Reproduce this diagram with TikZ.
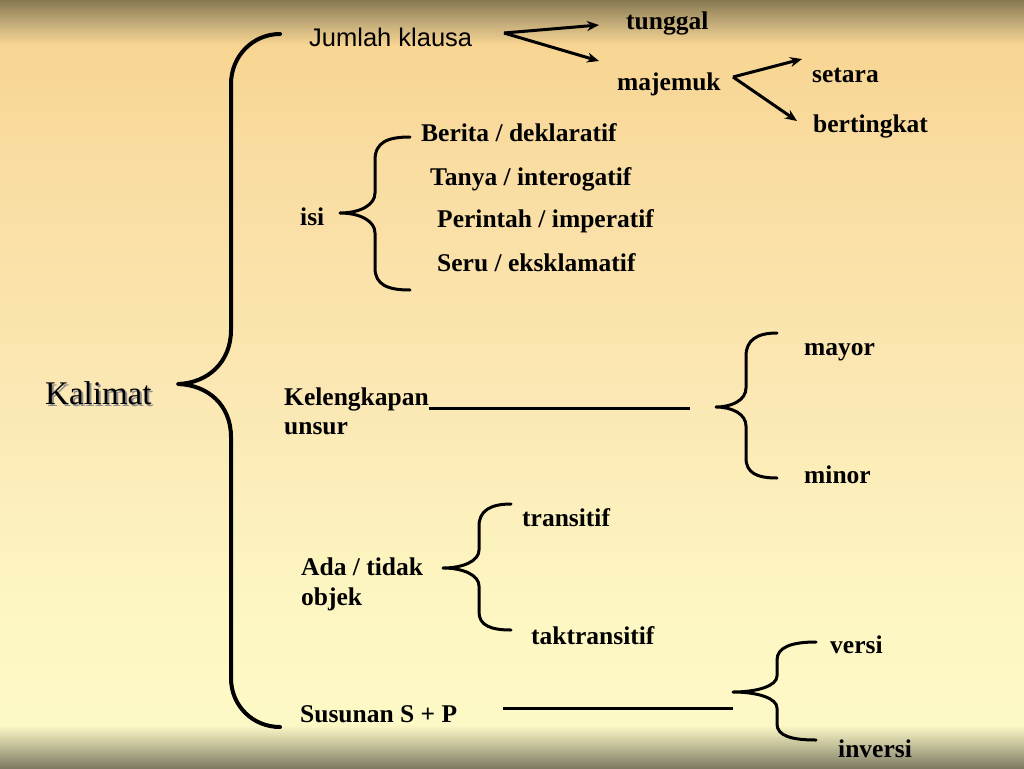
\documentclass[tikz,border=0pt]{standalone}
\usepackage{fontspec}
\setmainfont{Liberation Serif}
\newfontfamily\arialf{Liberation Sans}
\usetikzlibrary{arrows.meta}
\definecolor{bgA}{HTML}{7E7A62}
\definecolor{bgB}{HTML}{B5B290}
\definecolor{bgC}{HTML}{FDF9C6}
\definecolor{bgD}{HTML}{FDF6C2}
\definecolor{bgE}{HTML}{FBE8B4}
\definecolor{bgF}{HTML}{F9DCA0}
\definecolor{bgG}{HTML}{F8D592}
\definecolor{bgH}{HTML}{C8B07C}
\definecolor{bgI}{HTML}{877852}
\pgfdeclareverticalshading{slidebg}{100bp}{color(0bp)=(bgA); color(25bp)=(bgA); color(26.17bp)=(bgB); color(27.8bp)=(bgC); color(35.94bp)=(bgD); color(48.96bp)=(bgE); color(65.2bp)=(bgF); color(72.07bp)=(bgG); color(73.37bp)=(bgH); color(75bp)=(bgI); color(100bp)=(bgI)}
\begin{document}
\begin{tikzpicture}[x=1pt,y=-1pt,
  lbl/.style={inner sep=0pt, anchor=base west, font=\bfseries\fontsize{25.5}{30}\selectfont},
  brc/.style={line width=3pt, line cap=round, line join=round},
  bigbrc/.style={line width=4pt, line cap=round, line join=round},
  arr/.style={line width=3pt, -{Stealth[length=12pt,width=10pt]}},
  ln/.style={line width=3pt}]
\useasboundingbox (0,0) rectangle (1024,768);
\shade[shading=slidebg] (0,0) rectangle (1024,768);

% main brace
\draw[bigbrc] (280,34) .. controls (253,34) and (231,56) .. (231,84) -- (231,330)
  .. controls (231,362) and (208,383) .. (178,384)
  .. controls (208,385) and (231,405) .. (231,437) -- (231,678)
  .. controls (231,706) and (253,727) .. (280,727);

% Kalimat
\node[inner sep=0pt, anchor=base west, font=\fontsize{33}{38}\selectfont, text=black!45] (kalshadow) at (47,406) {Kalimat};
\node[inner sep=0pt, anchor=base west, font=\fontsize{33}{38}\selectfont] (kalimat) at (45,404) {Kalimat};

% Jumlah klausa
\node[inner sep=0pt, anchor=base west, font=\arialf\fontsize{25.5}{30}\selectfont] (jumlah) at (309,47) {Jumlah klausa};
\node[lbl] (tunggal) at (626,30) {tunggal};
\node[lbl] (majemuk) at (617,90) {majemuk};
\node[lbl] (setara) at (812,82) {setara};
\node[lbl] (bertingkat) at (813,132) {bertingkat};
\coordinate (jkout) at (504,33);
\coordinate (tgin) at (599,25);
\coordinate (mjin) at (599,61);
\draw[arr] (jkout) -- (tgin);
\draw[arr] (jkout) -- (mjin);
\coordinate (mjout) at (733,77);
\coordinate (stin) at (802,59);
\coordinate (btin) at (797,121);
\draw[arr] (mjout) -- (stin);
\draw[arr] (mjout) -- (btin);

% isi
\node[lbl] (isi) at (300,225) {isi};
\draw[brc] (410,137) .. controls (388,137) and (375,142) .. (375,160) -- (375,193)
  .. controls (375,205) and (360,213) .. (340,213)
  .. controls (360,213) and (375,221) .. (375,233) -- (375,268)
  .. controls (375,285) and (388,290) .. (410,290);
\node[lbl] (berita) at (421,141) {Berita / deklaratif};
\node[lbl] (tanya) at (430,185) {Tanya / interogatif};
\node[lbl] (perintah) at (437,227) {Perintah / imperatif};
\node[lbl] (seru) at (437,271) {Seru / eksklamatif};

% Kelengkapan unsur
\node[lbl] (keleng) at (284,405) {Kelengkapan};
\node[lbl] (unsur) at (284,434) {unsur};
\coordinate (klend) at (690,408);
\draw[ln] (keleng.base east) ++(0,3) coordinate (klstart) -- (klend);
\draw[brc] (777,333) .. controls (757,333) and (746,340) .. (746,356) -- (746,388)
  .. controls (746,400) and (732,407) .. (716,407)
  .. controls (732,407) and (746,414) .. (746,426) -- (746,458)
  .. controls (746,473) and (757,478) .. (777,478);
\node[lbl] (mayor) at (804,355) {mayor};
\node[lbl] (minor) at (804,483) {minor};

% Ada / tidak objek
\node[lbl] (ada) at (301,575) {Ada / tidak};
\node[lbl] (objek) at (301,605) {objek};
\draw[brc] (511,504) .. controls (490,504) and (479,511) .. (479,526) -- (479,550)
  .. controls (479,561) and (463,568) .. (443,568)
  .. controls (463,568) and (479,575) .. (479,586) -- (479,612)
  .. controls (479,625) and (490,630) .. (511,630);
\node[lbl] (transitif) at (522,526) {transitif};
\node[lbl] (taktrans) at (531,644) {taktransitif};

% Susunan S + P
\node[lbl] (susunan) at (300,722) {Susunan S + P};
\coordinate (ssstart) at (503,708);
\coordinate (ssend) at (733,708);
\draw[ln] (ssstart) -- (ssend);
\draw[brc] (816,642) .. controls (792,642) and (777,647) .. (777,660) -- (777,676)
  .. controls (777,686) and (757,692) .. (733,692)
  .. controls (757,692) and (777,698) .. (777,708) -- (777,724)
  .. controls (777,736) and (792,740) .. (816,740);
\node[lbl] (versi) at (830,653) {versi};
\node[lbl] (inversi) at (838,757) {inversi};
\end{tikzpicture}
\end{document}
